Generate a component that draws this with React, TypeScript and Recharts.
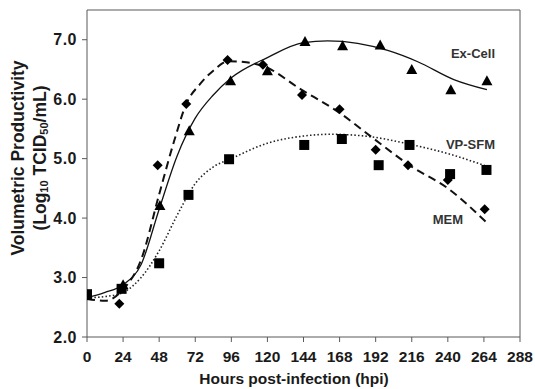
import {
  ComposedChart,
  Line,
  Scatter,
  XAxis,
  YAxis,
  ReferenceLine,
} from 'recharts';

// measured points (hours post-infection, log10 TCID50/mL)
const exCellHours = [0, 24, 48.5, 68, 95.5, 120, 145, 170, 195, 216, 242, 266];
const exCellValues = [2.7, 2.88, 4.21, 5.47, 6.31, 6.48, 6.97, 6.9, 6.91, 6.5, 6.16, 6.31];

const memHours = [0, 21.5, 47, 66, 93.5, 117, 143, 168, 192, 213.5, 240, 264.5];
const memValues = [2.7, 2.56, 4.89, 5.92, 6.66, 6.58, 6.07, 5.83, 5.15, 4.89, 4.64, 4.15];

const vpHours = [0, 23, 48, 67.5, 94.5, 144.5, 169.5, 194, 214.5, 241.5, 265.7];
const vpValues = [2.72, 2.81, 3.24, 4.39, 4.99, 5.23, 5.33, 4.89, 5.23, 4.74, 4.81];

// fitted trend lines
const exCellFitHours = [0, 12, 24, 36, 48, 60, 72, 84, 96, 120, 144, 160, 180, 200, 220, 244, 266];
const exCellFitValues = [2.66, 2.75, 2.88, 3.22, 4.15, 5.05, 5.68, 6.07, 6.36, 6.7, 6.95, 6.98, 6.94, 6.82, 6.63, 6.33, 6.16];

const memFitHours = [0, 12, 24, 36, 48, 58, 66, 75, 84, 94, 106, 117, 142, 168, 190, 215, 240, 266];
const memFitValues = [2.64, 2.61, 2.8, 3.3, 4.4, 5.3, 5.92, 6.25, 6.48, 6.64, 6.62, 6.56, 6.17, 5.77, 5.35, 4.88, 4.5, 3.92];

const vpFitHours = [0, 12, 24, 36, 48, 60, 72, 84, 96, 120, 144, 162, 188, 215, 242, 266];
const vpFitValues = [2.66, 2.68, 2.75, 3.0, 3.45, 4.05, 4.58, 4.86, 5.0, 5.26, 5.38, 5.41, 5.37, 5.24, 5.07, 4.87];

const xTicks = [0, 24, 48, 72, 96, 120, 144, 168, 192, 216, 240, 264, 288];
const yTicks = [2, 3, 4, 5, 6, 7];

const toPoints = (xs: number[], ys: number[]) => xs.map((h, i) => ({ h, v: ys[i] }));

const axisColor = '#595959';
const textColor = '#1a1a1a';
const font = 'Arial, "Liberation Sans", sans-serif';

function Triangle(props: any) {
  const { cx, cy } = props;
  return <path d={`M${cx},${cy - 5.5} L${cx + 5.5},${cy + 4.5} L${cx - 5.5},${cy + 4.5} Z`} fill="#000" />;
}

function Diamond(props: any) {
  const { cx, cy } = props;
  return <path d={`M${cx},${cy - 5} L${cx + 5},${cy} L${cx},${cy + 5} L${cx - 5},${cy} Z`} fill="#000" />;
}

function Square(props: any) {
  const { cx, cy } = props;
  return <rect x={cx - 5} y={cy - 5} width={10} height={10} fill="#000" />;
}

export default function App() {
  const xTickStyle = { fill: textColor, fontSize: 15.5, fontWeight: 700, fontFamily: font };
  const yTickStyle = { fill: textColor, fontSize: 16, fontWeight: 700, fontFamily: font, letterSpacing: 0.5 };

  return (
    <div style={{ position: 'absolute', left: 0, top: 0, width: 535, height: 389, background: '#fff' }}>
      <ComposedChart width={535} height={389} margin={{ top: 10, right: 15, left: 0, bottom: 0 }}>
        <XAxis
          dataKey="h"
          type="number"
          domain={[0, 288]}
          ticks={xTicks}
          interval={0}
          height={52}
          stroke={axisColor}
          tickSize={5}
          tickMargin={9}
          tick={xTickStyle}
          allowDataOverflow
        />
        <YAxis
          dataKey="v"
          type="number"
          domain={[2, 7.5]}
          ticks={yTicks}
          interval={0}
          width={87}
          stroke={axisColor}
          tickSize={5}
          tickMargin={5}
          tick={yTickStyle}
          tickFormatter={(v: number) => v.toFixed(1)}
          allowDataOverflow
        />
        <ReferenceLine y={7.5} stroke={axisColor} />
        <ReferenceLine x={288} stroke={axisColor} />
        <Line
          data={toPoints(vpFitHours, vpFitValues)}
          dataKey="v"
          type="monotone"
          stroke="#222"
          strokeWidth={1.6}
          strokeDasharray="1.5 2.2"
          dot={false}
          isAnimationActive={false}
        />
        <Line
          data={toPoints(memFitHours, memFitValues)}
          dataKey="v"
          type="monotone"
          stroke="#111"
          strokeWidth={2}
          strokeDasharray="8 5"
          dot={false}
          isAnimationActive={false}
        />
        <Line
          data={toPoints(exCellFitHours, exCellFitValues)}
          dataKey="v"
          type="monotone"
          stroke="#111"
          strokeWidth={1.3}
          dot={false}
          isAnimationActive={false}
        />
        <Scatter data={toPoints(memHours, memValues)} dataKey="v" shape={<Diamond />} isAnimationActive={false} />
        <Scatter data={toPoints(exCellHours, exCellValues)} dataKey="v" shape={<Triangle />} isAnimationActive={false} />
        <Scatter data={toPoints(vpHours, vpValues)} dataKey="v" shape={<Square />} isAnimationActive={false} />
      </ComposedChart>
      <svg
        width={535}
        height={389}
        style={{ position: 'absolute', left: 0, top: 0, pointerEvents: 'none' }}
        fontFamily={font}
        fontWeight={700}
        fill={textColor}
      >
        <text x={18} y={158} transform="rotate(-90 18 158)" textAnchor="middle" dominantBaseline="central" fontSize={17.5}>
          Volumetric Productivity
        </text>
        <text x={40} y={158} transform="rotate(-90 40 158)" textAnchor="middle" dominantBaseline="central" fontSize={17.5}>
          (Log<tspan fontSize={11} dy={4}>10</tspan>
          <tspan dy={-4}> TCID</tspan>
          <tspan fontSize={11} dy={4}>50</tspan>
          <tspan dy={-4}>/mL)</tspan>
        </text>
        <text x={294} y={384} textAnchor="middle" fontSize={15.5}>
          Hours post-infection (hpi)
        </text>
        <text x={495} y={58} textAnchor="end" fontSize={13} fill="#333">
          Ex-Cell
        </text>
        <text x={495} y={149} textAnchor="end" fontSize={13} fill="#333">
          VP-SFM
        </text>
        <text x={463} y={224} textAnchor="end" fontSize={13} fill="#333">
          MEM
        </text>
      </svg>
    </div>
  );
}
